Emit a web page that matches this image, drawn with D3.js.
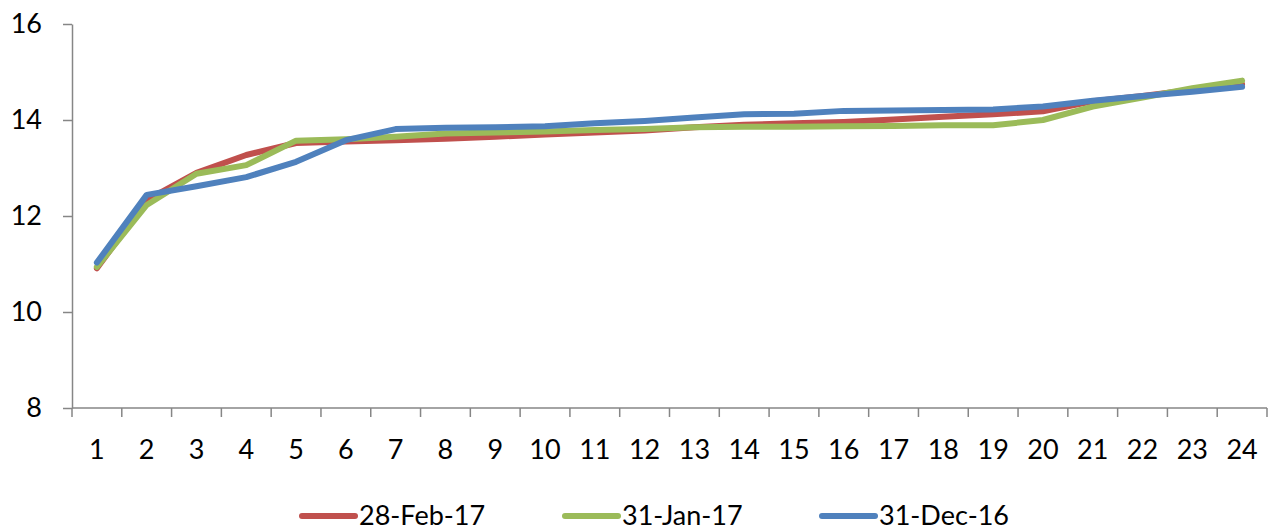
<!DOCTYPE html>
<html>
<head>
<meta charset="utf-8">
<script src="https://cdn.jsdelivr.net/npm/d3@7"></script>
<style>
  html, body { margin: 0; padding: 0; background: #fff; }
  svg { display: block; font-family: Lato, "Open Sans", sans-serif; }
</style>
</head>
<body>
<svg id="chart" width="1271" height="531"></svg>
<script>
// Tenor buckets on the x axis
const categories = [1,2,3,4,5,6,7,8,9,10,11,12,13,14,15,16,17,18,19,20,21,22,23,24];
const yTicks = [8, 10, 12, 14, 16];

// Curve values per snapshot date
const feb17 = [10.91,12.33,12.90,13.27,13.52,13.55,13.58,13.61,13.65,13.70,13.74,13.78,13.85,13.90,13.93,13.96,14.01,14.07,14.12,14.18,14.39,14.50,14.63,14.75];
const jan17 = [10.94,12.23,12.88,13.06,13.57,13.60,13.65,13.72,13.74,13.76,13.79,13.81,13.85,13.86,13.86,13.87,13.875,13.89,13.89,14.00,14.28,14.47,14.66,14.82];
const dec16 = [11.03,12.44,12.62,12.81,13.13,13.58,13.81,13.84,13.85,13.87,13.93,13.98,14.05,14.12,14.13,14.19,14.20,14.21,14.22,14.28,14.40,14.50,14.59,14.69];

const seriesNames = ["28-Feb-17", "31-Jan-17", "31-Dec-16"];
const seriesColors = ["#C0504D", "#9BBB59", "#4F81BD"];
const seriesValues = [feb17, jan17, dec16];

const svg = d3.select("#chart");
const plotLeft = 72, plotRight = 1267, plotTop = 24, plotBottom = 408;
const axisColor = "#868686";
const fontSize = 27;

const x = d3.scaleBand().domain(categories).range([plotLeft, plotRight]).padding(0);
const y = d3.scaleLinear().domain([8, 16]).range([plotBottom, plotTop]);

// Y axis
const yAxis = svg.append("g")
  .attr("transform", `translate(${plotLeft},0)`)
  .call(d3.axisLeft(y).tickValues(yTicks).tickSize(9).tickPadding(21).tickSizeOuter(0));
yAxis.select(".domain").attr("stroke", axisColor).attr("stroke-width", 1.5);
yAxis.selectAll(".tick line").attr("stroke", axisColor).attr("stroke-width", 1.5);
yAxis.selectAll(".tick text").attr("font-size", fontSize).attr("fill", "#000")
  .attr("font-family", "Lato, 'Open Sans', sans-serif");

// X axis with ticks on category boundaries
const xAxis = svg.append("g").attr("transform", `translate(0,${plotBottom})`);
xAxis.append("line").attr("x1", plotLeft).attr("x2", plotRight).attr("y1", 0).attr("y2", 0)
  .attr("stroke", axisColor).attr("stroke-width", 1.5);
const boundaries = categories.map(c => x(c)).concat([x(categories[categories.length - 1]) + x.bandwidth()]);
xAxis.selectAll("line.tk").data(boundaries).enter().append("line")
  .attr("class", "tk")
  .attr("x1", d => d).attr("x2", d => d).attr("y1", 0).attr("y2", 9)
  .attr("stroke", axisColor).attr("stroke-width", 1.5);
xAxis.selectAll("text").data(categories).enter().append("text")
  .attr("x", d => x(d) + x.bandwidth() / 2)
  .attr("y", 51)
  .attr("text-anchor", "middle")
  .attr("font-size", fontSize)
  .attr("fill", "#000")
  .text(d => d);

// Lines
const line = d3.line()
  .x((d, i) => x(categories[i]) + x.bandwidth() / 2)
  .y(d => y(d));

seriesValues.forEach((vals, k) => {
  svg.append("path")
    .datum(vals)
    .attr("d", line)
    .attr("fill", "none")
    .attr("stroke", seriesColors[k])
    .attr("stroke-width", 6)
    .attr("stroke-linejoin", "round")
    .attr("stroke-linecap", "round");
});

// Legend
const legendX = [302, 565, 822];
const legend = svg.append("g");
seriesNames.forEach((name, k) => {
  legend.append("line")
    .attr("x1", legendX[k]).attr("x2", legendX[k] + 53)
    .attr("y1", 516).attr("y2", 516)
    .attr("stroke", seriesColors[k]).attr("stroke-width", 6)
    .attr("stroke-linecap", "round");
  legend.append("text")
    .attr("x", legendX[k] + 57).attr("y", 525)
    .attr("font-size", fontSize).attr("fill", "#000")
    .text(name);
});
</script>
</body>
</html>
